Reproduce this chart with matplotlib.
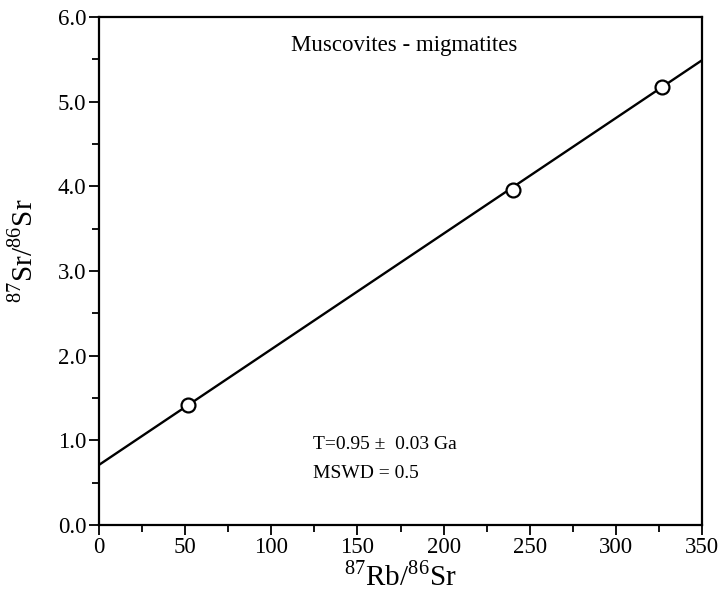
import matplotlib
matplotlib.use("Agg")
import matplotlib.pyplot as plt
import numpy as np
from matplotlib.ticker import MultipleLocator

plt.rcParams['font.family'] = ['Liberation Serif', 'DejaVu Serif']
plt.rcParams['mathtext.fontset'] = 'custom'
plt.rcParams['mathtext.rm'] = 'Liberation Serif'

# measured muscovite data
rb_sr = [51.7, 240.3, 326.8]
sr_sr = [1.42, 3.96, 5.18]

# isochron line (intercept, slope)
intercept = 0.71
slope = 0.01366
line_x = [0, 350]

fig = plt.figure(figsize=(7.26, 6.01), dpi=100)
ax = fig.add_axes([0.1364, 0.1265, 0.8306, 0.845])

ax.plot(line_x, [intercept + slope * x for x in line_x], color='black', lw=1.7, zorder=2)
ax.plot(rb_sr, sr_sr, 'o', ms=10, mfc='white', mec='black', mew=1.6, zorder=3)

ax.set_xlim(0, 350)
ax.set_ylim(0, 6.0)
ax.xaxis.set_major_locator(MultipleLocator(50))
ax.xaxis.set_minor_locator(MultipleLocator(25))
ax.yaxis.set_major_locator(MultipleLocator(1.0))
ax.yaxis.set_minor_locator(MultipleLocator(0.5))
ax.yaxis.set_major_formatter(plt.FormatStrFormatter('%.1f'))
ax.tick_params(which='both', direction='out', top=False, right=False, width=1.3, labelsize=16.5, pad=2)
ax.tick_params(which='major', length=7)
ax.tick_params(which='minor', length=5)
for s in ax.spines.values():
    s.set_linewidth(1.6)

ax.set_xlabel(r'$^{87}$Rb/$^{86}$Sr', fontsize=21, labelpad=2)
ax.set_ylabel(r'$^{87}$Sr/$^{86}$Sr', fontsize=21)
ax.yaxis.set_label_coords(-0.1, 0.54)

ax.text(177, 5.67, 'Muscovites - migmatites', fontsize=16.5, ha='center', va='center')
ax.text(124, 0.945, 'T=0.95 \u00b1  0.03 Ga', fontsize=14, ha='left', va='center')
ax.text(124, 0.61, 'MSWD = 0.5', fontsize=14, ha='left', va='center')

fig.savefig('out.png', dpi=100)
